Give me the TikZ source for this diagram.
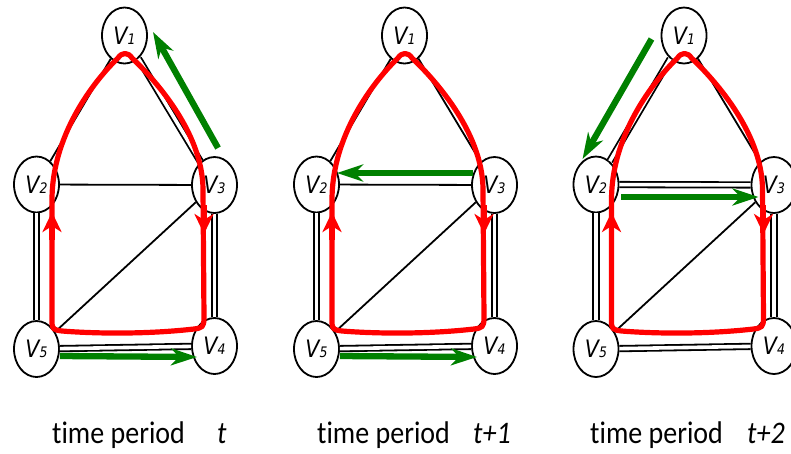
\documentclass[tikz,border=0pt]{standalone}
\usepackage{fontspec}
\setmainfont{Carlito}[Ligatures=NoCommon]
\newfontfamily\vfont{DejaVu Sans}
\usetikzlibrary{shapes.geometric,arrows.meta}
\definecolor{grn}{RGB}{0,128,0}
\newcommand{\vlbl}[1]{\scalebox{0.86}[1]{\vfont\itshape\fontsize{24}{24}\selectfont V\fontsize{14.5}{14.5}\selectfont #1}}
\newcommand{\captxt}[1]{\scalebox{1}[1.12]{#1}}
\tikzset{
  vert/.style={ellipse, draw, line width=1.8pt, minimum width=45pt, minimum height=56pt, inner sep=0pt, fill=white},
  sedge/.style={line width=1.8pt},
  dedge/.style={line width=1.8pt, double=white, double distance=3.6pt},
  redloop/.style={red, line width=5.2pt, line join=round},
  redtip/.style={red, line width=5.2pt, -{Stealth[length=20pt,width=19pt,inset=6pt]}},
  garrow/.style={grn, line width=6.3pt, -{Stealth[length=26pt,width=17pt,inset=8pt]}},
  caption/.style={anchor=base west, inner sep=0pt, font=\fontsize{28}{28}\selectfont}
}
\begin{document}
\begin{tikzpicture}[x=1pt,y=-1pt]
\useasboundingbox (0,0) rectangle (791,453);
\clip (0,0) rectangle (791,453);

% ---------- panel 1 ----------
\begin{scope}
  \node[vert] (a1) at (124.5,35.5) {\vlbl{1}};
  \node[vert] (a2) at (36.5,184.5) {\vlbl{2}};
  \node[vert] (a3) at (214.5,185) {\vlbl{3}};
  \node[vert] (a4) at (214.5,346) {\vlbl{4}};
  \node[vert] (a5) at (36.5,349) {\vlbl{5}};
  \draw[sedge] (a1) -- (a2);
  \draw[dedge] (a1) -- (a3);
  \draw[sedge] (a2) -- (a3);
  \draw[sedge] (a3) -- (a5);
  \draw[dedge] (a2) -- (a5);
  \draw[dedge] (a3) -- (a4);
  \draw[dedge] (a5) -- (a4);
  \draw[redloop] (52,322) -- (52,200) .. controls (52,130) and (100,75) .. (118,58)
     .. controls (122,52) and (128,52) .. (132,58) .. controls (150,75) and (203,130) .. (203,190)
     -- (204,318) .. controls (204,327) and (202,328) .. (194,329)
     .. controls (150,334) and (100,334) .. (62,331) .. controls (54,330) and (52,329) .. (52,322) -- cycle;
  \draw[redtip] (52,240) -- (52,212);
  \draw[redtip] (204,205) -- (204,234);
  \draw[garrow] (218,148) -- (153,32);
  \draw[garrow] (60,356) -- (197,357);
  \node[caption] (c1) at (52,443) {\captxt{time period}};
  \node[caption] (c1t) at (217,443) {\captxt{\itshape t}};
\end{scope}

% ---------- panel 2 ----------
\begin{scope}[xshift=280pt]
  \node[vert] (b1) at (124.5,35.5) {\vlbl{1}};
  \node[vert] (b2) at (36.5,184.5) {\vlbl{2}};
  \node[vert] (b3) at (214.5,185) {\vlbl{3}};
  \node[vert] (b4) at (214.5,346) {\vlbl{4}};
  \node[vert] (b5) at (36.5,349) {\vlbl{5}};
  \draw[sedge] (b1) -- (b2);
  \draw[sedge] (b1) -- (b3);
  \draw[sedge] (b2) -- (b3);
  \draw[sedge] (b3) -- (b5);
  \draw[dedge] (b2) -- (b5);
  \draw[dedge] (b3) -- (b4);
  \draw[dedge] (b5) -- (b4);
  \draw[redloop] (52,322) -- (52,200) .. controls (52,130) and (100,75) .. (118,58)
     .. controls (122,52) and (128,52) .. (132,58) .. controls (150,75) and (203,130) .. (203,190)
     -- (204,318) .. controls (204,327) and (202,328) .. (194,329)
     .. controls (150,334) and (100,334) .. (62,331) .. controls (54,330) and (52,329) .. (52,322) -- cycle;
  \draw[redtip] (52,240) -- (52,212);
  \draw[redtip] (204,205) -- (204,234);
  \draw[garrow] (193,173) -- (57,173);
  \draw[garrow] (60,356) -- (197,357);
  \node[caption] (c2) at (37,443) {\captxt{time period}};
  \node[caption] (c2t) at (193,443) {\captxt{\itshape t+1}};
\end{scope}

% ---------- panel 3 ----------
\begin{scope}[xshift=559.5pt]
  \node[vert] (d1) at (124.5,35.5) {\vlbl{1}};
  \node[vert] (d2) at (36.5,184.5) {\vlbl{2}};
  \node[vert] (d3) at (214.5,185) {\vlbl{3}};
  \node[vert] (d4) at (214.5,346) {\vlbl{4}};
  \node[vert] (d5) at (36.5,349) {\vlbl{5}};
  \draw[dedge] (d1) -- (d2);
  \draw[sedge] (d1) -- (d3);
  \draw[dedge] (d2) -- (d3);
  \draw[sedge] (d3) -- (d5);
  \draw[dedge] (d2) -- (d5);
  \draw[dedge] (d3) -- (d4);
  \draw[dedge] (d5) -- (d4);
  \draw[redloop] (52,322) -- (52,200) .. controls (52,130) and (100,75) .. (118,58)
     .. controls (122,52) and (128,52) .. (132,58) .. controls (150,75) and (203,130) .. (203,190)
     -- (204,318) .. controls (204,327) and (202,328) .. (194,329)
     .. controls (150,334) and (100,334) .. (62,331) .. controls (54,330) and (52,329) .. (52,322) -- cycle;
  \draw[redtip] (52,240) -- (52,212);
  \draw[redtip] (204,205) -- (204,234);
  \draw[garrow] (92,39) -- (23,159);
  \draw[garrow] (61.5,197) -- (199,197);
  \node[caption] (c3) at (30.5,443) {\captxt{time period}};
  \node[caption] (c3t) at (187.5,443) {\captxt{\itshape t+2}};
\end{scope}
\end{tikzpicture}
\end{document}
